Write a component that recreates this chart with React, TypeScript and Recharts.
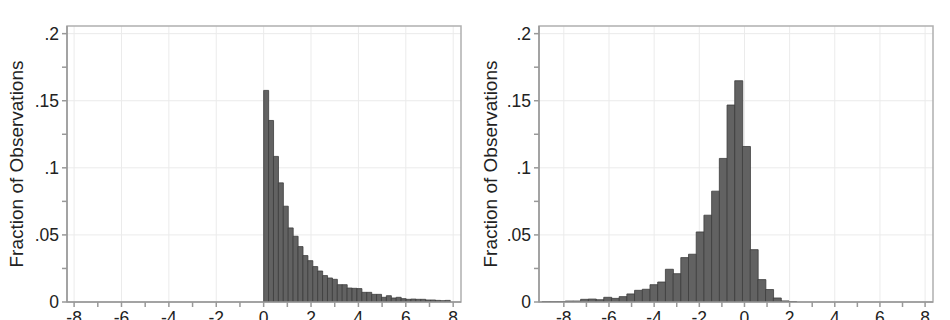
import { Bar, BarChart, CartesianGrid, ReferenceArea, XAxis, YAxis } from "recharts";

// left panel: 0.207-wide bins starting at 0
const leftStart = 0;
const leftWidth = 0.2072;
const leftValues = [
    0.1577, 0.1353, 0.1085, 0.0888, 0.0714, 0.0552, 0.049, 0.0413, 0.0346, 0.0308,
    0.0264, 0.0231, 0.0197, 0.0179, 0.0169, 0.0129, 0.0129, 0.0104, 0.0102, 0.01,
    0.0072, 0.0072, 0.0057, 0.0057, 0.0035, 0.0047, 0.003, 0.0035, 0.0025, 0.002,
    0.0022, 0.002, 0.002, 0.0015, 0.0015, 0.0012, 0.001, 0.0012,
];

// right panel: 0.341-wide bins
const rightStart = -8.963;
const rightWidth = 0.3413;
const rightValues = [
    0.0003, 0.0003, 0.0003, 0.0007, 0.0007, 0.002, 0.0022, 0.0017, 0.0035, 0.0027,
    0.004, 0.006, 0.0087, 0.0095, 0.0129, 0.0149, 0.0244, 0.0211, 0.0331, 0.0356,
    0.0522, 0.0647, 0.0826, 0.107, 0.1468, 0.1649, 0.1159, 0.039, 0.0167, 0.0093,
    0.003, 0.0008, 0.0003,
];

const xTicks = [-8, -7, -6, -5, -4, -3, -2, -1, 0, 1, 2, 3, 4, 5, 6, 7, 8];
const xGrid = [-8, -6, -4, -2, 0, 2, 4, 6, 8];
const yTicks = [0, 0.025, 0.05, 0.075, 0.1, 0.125, 0.15, 0.175, 0.2];
const yTickLabels = ["0", "", ".05", "", ".1", "", ".15", "", ".2"];
const yGrid = [0.05, 0.1, 0.15, 0.2];
const yLabel = "Fraction of Observations";

const yTop = 0.2057;

const makeBins = (start: number, width: number, values: number[]) =>
    values.map((v, i) => ({ x: start + (i + 0.5) * width, frac: v }));

type PanelProps = {
    data: { x: number; frac: number }[];
    domain: [number, number];
    left: number;
    axisWidth: number;
    right: number;
};

const Panel = ({ data, domain, left, axisWidth, right }: PanelProps) => (
    <div style={{ position: "absolute", left, top: 0 }}>
        <BarChart
            width={475}
            height={340}
            data={data}
            margin={{ top: 26, right, left: 0, bottom: 0 }}
            barCategoryGap={0}
            barGap={0}
        >
            <CartesianGrid verticalValues={xGrid} horizontalValues={yGrid} stroke="#ebebeb" strokeWidth={1} />
            <XAxis
                dataKey="x"
                type="number"
                domain={domain}
                ticks={xTicks}
                interval={0}
                allowDataOverflow
                tickFormatter={(v: number) => (v % 2 === 0 ? String(v) : "")}
                tickSize={5}
                tickMargin={5}
                height={38}
                stroke="#999"
                strokeWidth={1.5}
                tick={{ fill: "#222", fontSize: 17.5 }}
            />
            <YAxis
                type="number"
                domain={[0, yTop]}
                ticks={yTicks}
                interval={0}
                allowDataOverflow
                tickFormatter={(_v: number, i: number) => yTickLabels[i]}
                tickSize={5}
                tickMargin={3}
                width={axisWidth}
                stroke="#999"
                strokeWidth={1.5}
                tick={{ fill: "#222", fontSize: 17.5 }}
                label={{
                    value: yLabel,
                    angle: -90,
                    position: "center",
                    dx: -17,
                    style: { fill: "#222", fontSize: 19, textAnchor: "middle" },
                }}
            />
            <ReferenceArea
                x1={domain[0]}
                x2={domain[1]}
                y1={0}
                y2={yTop}
                fill="none"
                stroke="#b0b0b0"
                strokeWidth={1.5}
                ifOverflow="visible"
            />
            <Bar
                dataKey="frac"
                fill="#626262"
                stroke="#3c3c3c"
                strokeWidth={0.8}
                isAnimationActive={false}
            />
        </BarChart>
    </div>
);

const App = () => {
    const leftData = makeBins(leftStart, leftWidth, leftValues);
    const rightData = makeBins(rightStart, rightWidth, rightValues);

    return (
        <div
            style={{
                position: "absolute",
                left: 0,
                top: 0,
                width: 950,
                height: 320,
                overflow: "hidden",
                background: "#fff",
                fontFamily: "'Liberation Sans', Arial, sans-serif",
            }}
        >
            <Panel data={leftData} domain={[-8.3, 8.33]} left={0} axisWidth={67} right={14} />
            <Panel data={rightData} domain={[-9.1, 8.35]} left={475} axisWidth={64} right={17} />
        </div>
    );
};

export default App;
